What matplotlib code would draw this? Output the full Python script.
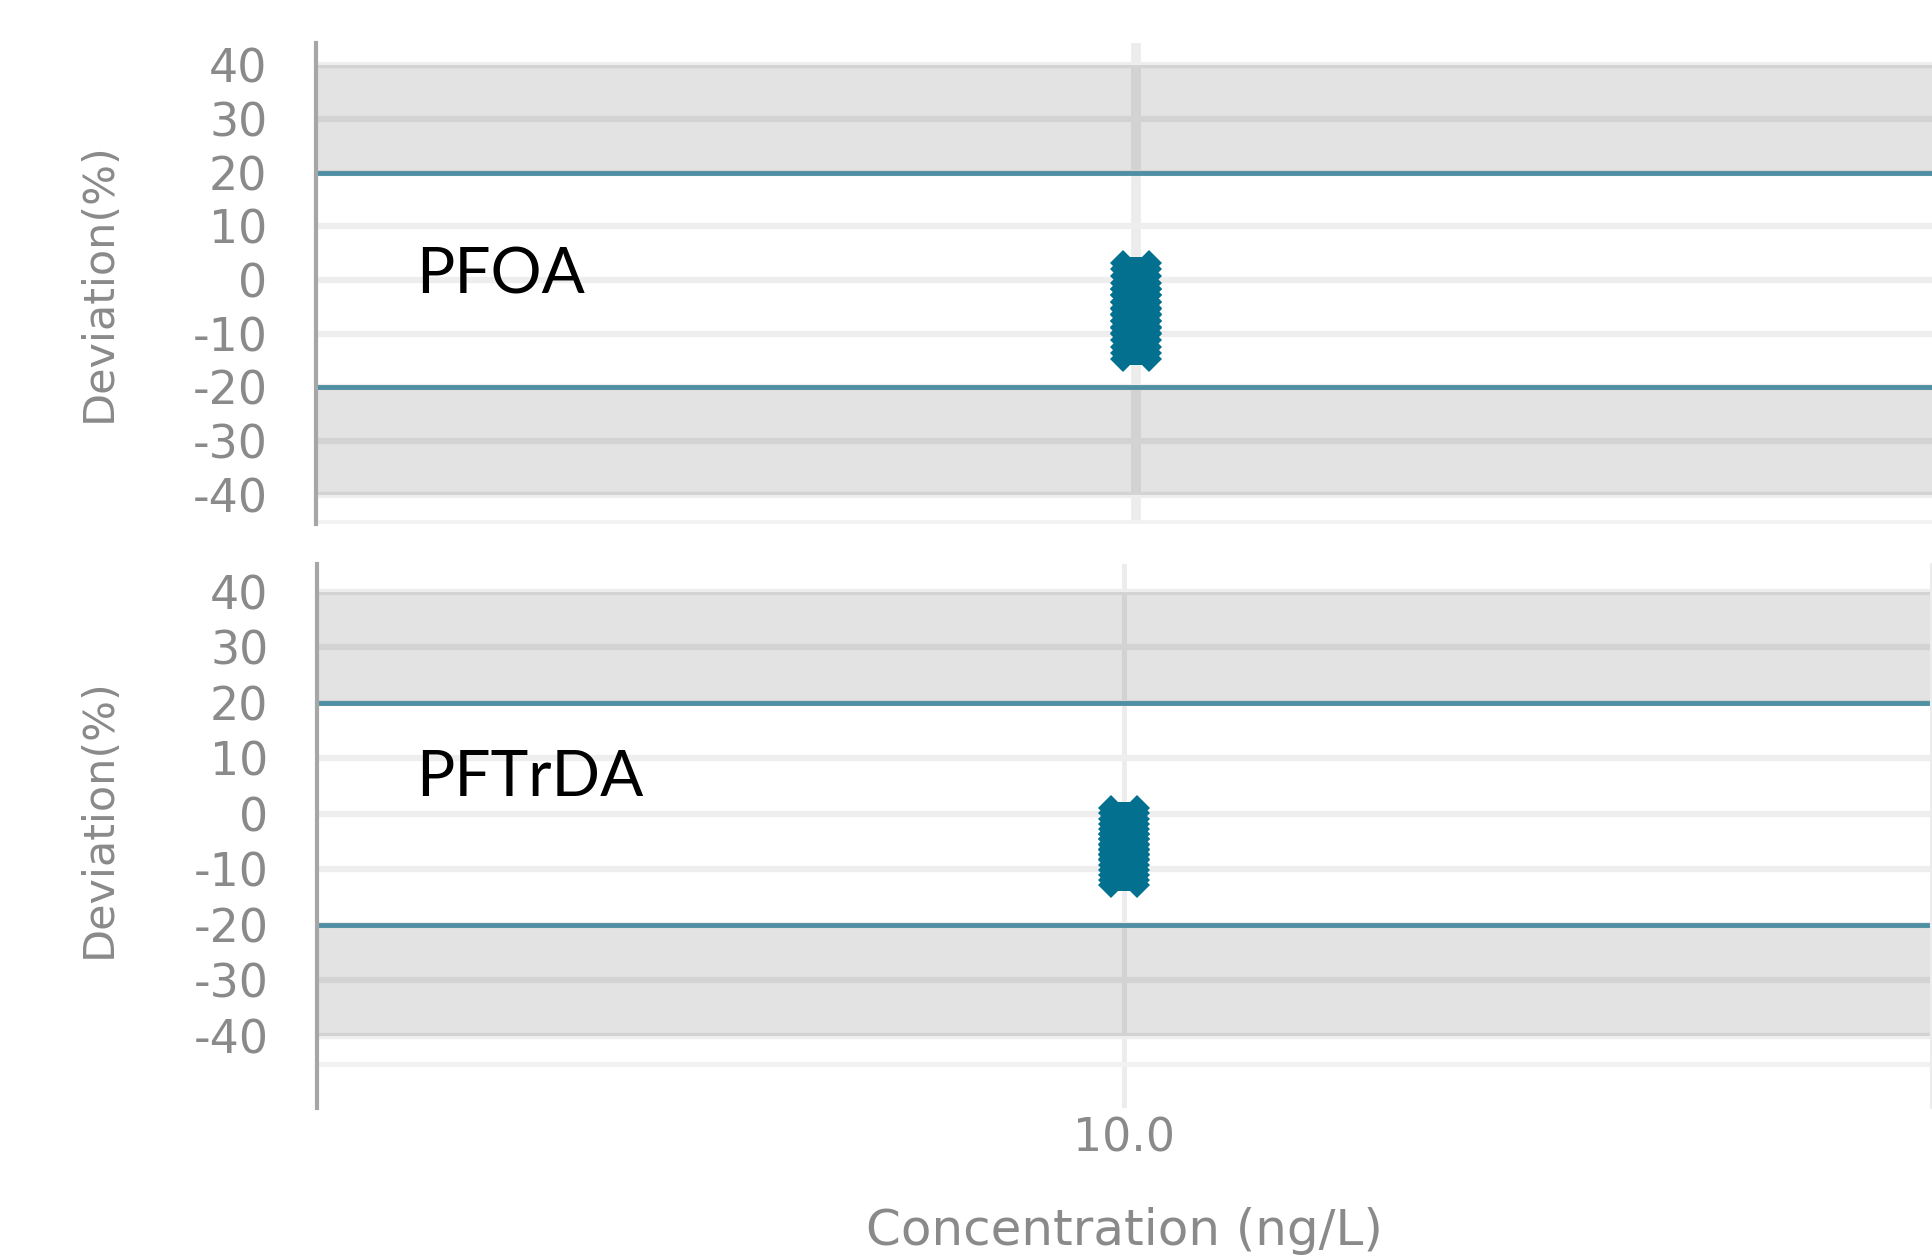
import matplotlib
matplotlib.use("Agg")
import matplotlib.pyplot as plt
from matplotlib import font_manager

# data
concentration = 10.0
pfoa_deviation = [0.7, -0.4, -1.6, -2.9, -4.1, -5.2, -6.5, -7.7, -8.8, -10.0, -11.2, -12.3]
pftrda_deviation = [-1.3, -2.2, -3.2, -4.1, -5.0, -5.9, -6.8, -7.7, -8.6, -9.5, -10.4]
y_ticks = [40, 30, 20, 10, 0, -10, -20, -30, -40]
y_tick_labels = ["40", "30", "20", "10", "0", "-10", "-20", "-30", "-40"]
x_tick_labels = ["10.0"]
limit = 20
band_edge = 40

W, H = 1932, 1258
fig = plt.figure(figsize=(W / 100, H / 100), dpi=100)

installed = {f.name for f in font_manager.fontManager.ttflist}
ylab_font = "Liberation Sans Narrow" if "Liberation Sans Narrow" in installed else "DejaVu Sans"
ylab_size = 42 if ylab_font == "Liberation Sans Narrow" else 31

GRAY_TXT = "#8a8a8a"
BLUE = "#4f8fa3"
POINT = "#03708f"


def px_box(left, top, right, bottom):
    return [left / W, 1 - bottom / H, (right - left) / W, (bottom - top) / H]


def draw_panel(ax, ylim, values, vgrid_lw):
    ax.set_xlim(concentration - 1, concentration + 1)
    ax.set_ylim(*ylim)
    ax.set_axisbelow(True)

    # grid
    ax.set_yticks(y_ticks)
    ax.set_yticklabels(y_tick_labels)
    ax.set_yticks([-45], minor=True)
    ax.set_xticks([concentration])
    ax.grid(axis="y", which="major", color="#eeeeee", lw=4.5, zorder=0)
    ax.grid(axis="y", which="minor", color="#f2f2f2", lw=3.5, zorder=0)
    ax.grid(axis="x", which="major", color="#ececec", lw=vgrid_lw, zorder=0)

    # shaded zones outside +-20
    ax.axhspan(limit, band_edge, color="black", alpha=0.11, lw=0, zorder=1)
    ax.axhspan(-band_edge, -limit, color="black", alpha=0.11, lw=0, zorder=1)
    ax.axhline(limit, color=BLUE, lw=3.5, zorder=2)
    ax.axhline(-limit, color=BLUE, lw=3.5, zorder=2)

    xs = [concentration] * len(values)
    ax.plot(xs, values, linestyle="none", marker="X", markersize=37,
            color=POINT, markeredgewidth=0, zorder=3)
    ax.plot(xs, values, linestyle="none", marker="s", markersize=27,
            color=POINT, markeredgewidth=0, zorder=3)

    for s in ["top", "right", "bottom"]:
        ax.spines[s].set_visible(False)
    ax.spines["left"].set_color("#a6a6a6")
    ax.spines["left"].set_linewidth(3)
    ax.tick_params(axis="both", which="both", length=0)
    ax.tick_params(axis="y", labelsize=33, labelcolor=GRAY_TXT, pad=35)
    for lab in ax.get_yticklabels():
        lab.set_family("DejaVu Sans")


ax_top = fig.add_axes(px_box(316, 43, 1955, 524))
draw_panel(ax_top, (-45.4, 44.1), pfoa_deviation, 7)
ax_top.set_xticklabels([])

ax_bot = fig.add_axes(px_box(317, 564, 1931, 1108))
draw_panel(ax_bot, (-53, 45), pftrda_deviation, 3.5)
ax_bot.set_xticklabels(x_tick_labels)
ax_bot.tick_params(axis="x", labelsize=33, labelcolor=GRAY_TXT, pad=6)
ax_bot.spines["right"].set_visible(True)
ax_bot.spines["right"].set_color("#ececec")
ax_bot.spines["right"].set_linewidth(1.5)

# compound names
fig.text(416 / W, 1 - 293 / H, "PFOA", fontsize=46, family="Lato", color="black",
         ha="left", va="baseline")
fig.text(416 / W, 1 - 796 / H, "PFTrDA", fontsize=46, family="Lato", color="black",
         ha="left", va="baseline")

# axis titles
for yc in [282, 818]:
    fig.text(99 / W, 1 - yc / H, "Deviation(%)", rotation=90, ha="center", va="center",
             fontsize=ylab_size, family=ylab_font, color=GRAY_TXT)
fig.text(1124 / W, 13 / H, "Concentration (ng/L)", ha="center", va="baseline",
         fontsize=36, family="DejaVu Sans", color=GRAY_TXT)

fig.savefig("out.png", dpi=100, facecolor="white")
